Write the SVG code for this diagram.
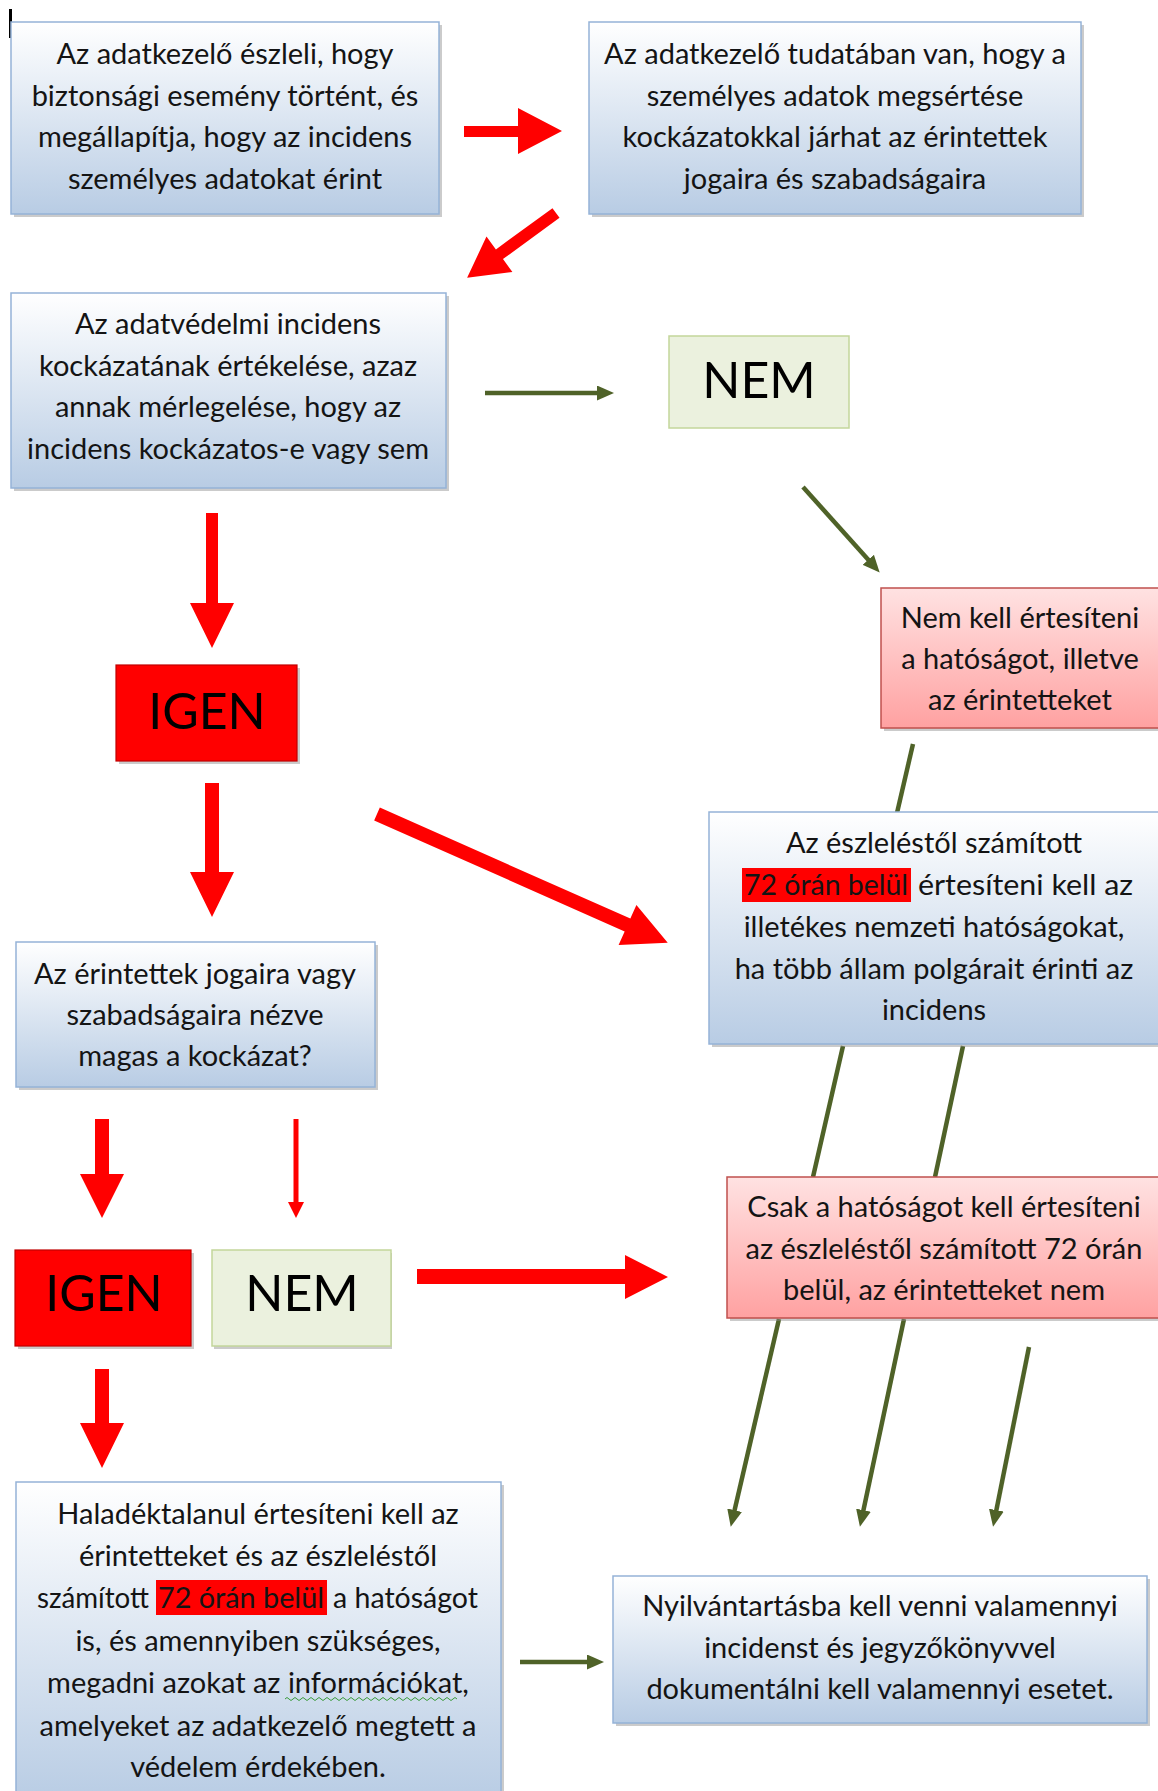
<svg xmlns="http://www.w3.org/2000/svg" width="1158" height="1791" viewBox="0 0 1158 1791">
<defs>
<linearGradient id="gBlue" x1="0" y1="0" x2="0" y2="1">
<stop offset="0" stop-color="#ffffff"/>
<stop offset="1" stop-color="#b8cce4"/>
</linearGradient>
<linearGradient id="gPink" x1="0" y1="0" x2="0" y2="1">
<stop offset="0" stop-color="#ffe2e2"/>
<stop offset="1" stop-color="#ffa1a1"/>
</linearGradient>
<marker id="gh" markerUnits="userSpaceOnUse" markerWidth="17" markerHeight="15" refX="7" refY="7.5" orient="auto" viewBox="0 0 17 15">
<path d="M0,0 L17,7.5 L0,15 z" fill="#4f6228"/>
</marker>
</defs>
<style>
.shadow{fill:#8c8c8c;opacity:.45}
.blue{fill:url(#gBlue);stroke:#95b3d7;stroke-width:1.5}
.pink{fill:url(#gPink);stroke:#c0504d;stroke-width:1.5}
.igen{fill:#ff0000;stroke:#c00000;stroke-width:1.2}
.nem{fill:#ebf1de;stroke:#c3d69b;stroke-width:1.5}
.t{font-family:Lato,"Liberation Sans",sans-serif;font-size:29px;fill:#141414;text-anchor:middle}
.ts{font-family:Lato,"Liberation Sans",sans-serif;font-size:29px;fill:#141414}
.big{font-family:Lato,"Liberation Sans",sans-serif;font-size:50px;fill:#000;text-anchor:middle}
.ra{fill:#ff0000}
.gl{stroke:#4f6228;stroke-width:4.5;fill:none}
.hl{fill:#ff0000}
</style>
<rect x="9" y="9" width="3" height="29" fill="#000"/>

<g id="connectors">
<polygon class="ra" points="464,126 518,126 518,108 562,131 518,154 518,137 464,137"/>
<polygon class="ra" transform="translate(556,213) rotate(143.9)" points="0,-6 70,-6 70,-22 110,0 70,22 70,6 0,6"/>
<polygon class="ra" points="206,513 218,513 218,603 234,603 212,648 190,603 206,603"/>
<polygon class="ra" points="205,783 219,783 219,872 234,872 212,917 190,872 205,872"/>
<polygon class="ra" transform="translate(377,814) rotate(23.9)" points="0,-7 274,-7 274,-22 318,0 274,22 274,7 0,7"/>
<polygon class="ra" points="95,1119 109,1119 109,1174 124,1174 102,1218 80,1174 95,1174"/>
<polygon class="ra" points="293.5,1119 298.5,1119 298.5,1202 304,1202 296,1218 288,1202 293.5,1202"/>
<polygon class="ra" points="417,1269 625,1269 625,1255 668,1277 625,1299 625,1284 417,1284"/>
<polygon class="ra" points="95,1369 109,1369 109,1423 124,1423 102,1468 80,1423 95,1423"/>
<line class="gl" x1="485" y1="393" x2="604" y2="393" marker-end="url(#gh)"/>
<line class="gl" x1="803" y1="487" x2="873" y2="565" marker-end="url(#gh)"/>
<line class="gl" x1="913" y1="744" x2="897" y2="813"/>
<line class="gl" x1="843" y1="1046" x2="813" y2="1177"/>
<line class="gl" x1="963" y1="1046" x2="935" y2="1177"/>
<line class="gl" x1="779" y1="1319" x2="733" y2="1517" marker-end="url(#gh)"/>
<line class="gl" x1="904" y1="1319" x2="862" y2="1517" marker-end="url(#gh)"/>
<line class="gl" x1="1029" y1="1347" x2="995" y2="1517" marker-end="url(#gh)"/>
<line class="gl" x1="520" y1="1662" x2="594" y2="1662" marker-end="url(#gh)"/>
</g>

<g id="n1">
<rect class="shadow" x="14" y="25" width="428" height="192"/>
<rect class="blue" x="11" y="22" width="428" height="192"/>
<text class="t" x="225" y="64">Az adatkezelő észleli, hogy</text>
<text class="t" x="225" y="106">biztonsági esemény történt, és</text>
<text class="t" x="225" y="147">megállapítja, hogy az incidens</text>
<text class="t" x="225" y="189">személyes adatokat érint</text>
</g>

<g id="n2">
<rect class="shadow" x="592" y="25" width="492" height="192"/>
<rect class="blue" x="589" y="22" width="492" height="192"/>
<text class="t" x="835" y="64">Az adatkezelő tudatában van, hogy a</text>
<text class="t" x="835" y="106">személyes adatok megsértése</text>
<text class="t" x="835" y="147">kockázatokkal járhat az érintettek</text>
<text class="t" x="835" y="189">jogaira és szabadságaira</text>
</g>

<g id="n3">
<rect class="shadow" x="14" y="296" width="435" height="195"/>
<rect class="blue" x="11" y="293" width="435" height="195"/>
<text class="t" x="228" y="334">Az adatvédelmi incidens</text>
<text class="t" x="228" y="376">kockázatának értékelése, azaz</text>
<text class="t" x="228" y="417">annak mérlegelése, hogy az</text>
<text class="t" x="228" y="459">incidens kockázatos-e vagy sem</text>
</g>

<g id="nem1">
<rect class="nem" x="669" y="336" width="180" height="92"/>
<text class="big" x="759" y="398">NEM</text>
</g>

<g id="n4">
<rect class="shadow" x="884" y="591" width="280" height="140"/>
<rect class="pink" x="881" y="588" width="280" height="140"/>
<text class="t" x="1020" y="628">Nem kell értesíteni</text>
<text class="t" x="1020" y="669">a hatóságot, illetve</text>
<text class="t" x="1020" y="710">az érintetteket</text>
</g>

<g id="igen1">
<rect class="shadow" x="119" y="668" width="181" height="96"/>
<rect class="igen" x="116" y="665" width="181" height="96"/>
<text class="big" x="207" y="729">IGEN</text>
</g>

<g id="n5">
<rect class="shadow" x="19" y="945" width="359" height="145"/>
<rect class="blue" x="16" y="942" width="359" height="145"/>
<text class="t" x="195" y="984">Az érintettek jogaira vagy</text>
<text class="t" x="195" y="1025">szabadságaira nézve</text>
<text class="t" x="195" y="1066">magas a kockázat?</text>
</g>

<g id="n6">
<rect class="shadow" x="712" y="815" width="460" height="232"/>
<rect class="blue" x="709" y="812" width="460" height="232"/>
<text class="t" x="934" y="853">Az észleléstől számított</text>
<rect class="hl" x="742" y="868" width="169" height="34"/>
<text class="ts" x="744" y="895" textLength="164" lengthAdjust="spacingAndGlyphs">72 órán belül</text>
<text class="ts" x="918" y="895" textLength="215" lengthAdjust="spacingAndGlyphs">értesíteni kell az</text>
<text class="t" x="934" y="937">illetékes nemzeti hatóságokat,</text>
<text class="t" x="934" y="979">ha több állam polgárait érinti az</text>
<text class="t" x="934" y="1020">incidens</text>
</g>

<g id="n7">
<rect class="shadow" x="730" y="1180" width="440" height="141"/>
<rect class="pink" x="727" y="1177" width="440" height="141"/>
<text class="t" x="944" y="1217">Csak a hatóságot kell értesíteni</text>
<text class="t" x="944" y="1259">az észleléstől számított 72 órán</text>
<text class="t" x="944" y="1300">belül, az érintetteket nem</text>
</g>

<g id="igen2">
<rect class="shadow" x="18" y="1253" width="176" height="96"/>
<rect class="igen" x="15" y="1250" width="176" height="96"/>
<text class="big" x="104" y="1311">IGEN</text>
</g>

<g id="nem2">
<rect class="shadow" x="214" y="1253" width="178" height="96" opacity=".25"/>
<rect class="nem" x="212" y="1250" width="179" height="96"/>
<text class="big" x="302" y="1311">NEM</text>
</g>

<g id="n8">
<rect class="shadow" x="19" y="1485" width="485" height="320"/>
<rect class="blue" x="16" y="1482" width="485" height="320"/>
<text class="t" x="258" y="1524">Haladéktalanul értesíteni kell az</text>
<text class="t" x="258" y="1566">érintetteket és az észleléstől</text>
<text class="ts" x="37" y="1608" textLength="112" lengthAdjust="spacingAndGlyphs">számított</text>
<rect class="hl" x="156" y="1580" width="171" height="35"/>
<text class="ts" x="158" y="1608" textLength="166" lengthAdjust="spacingAndGlyphs">72 órán belül</text>
<text class="ts" x="333" y="1608" textLength="145" lengthAdjust="spacingAndGlyphs">a hatóságot</text>
<text class="t" x="258" y="1651">is, és amennyiben szükséges,</text>
<text class="t" x="258" y="1693">megadni azokat az információkat,</text>
<path d="M285,1699 q2,-3 4,0 t4,0 t4,0 t4,0 t4,0 t4,0 t4,0 t4,0 t4,0 t4,0 t4,0 t4,0 t4,0 t4,0 t4,0 t4,0 t4,0 t4,0 t4,0 t4,0 t4,0 t4,0 t4,0 t4,0 t4,0 t4,0 t4,0 t4,0 t4,0 t4,0 t4,0 t4,0 t4,0 t4,0 t4,0 t4,0 t4,0 t4,0 t4,0 t4,0 t4,0 t4,0 t4,0" fill="none" stroke="#3a9a3a" stroke-width="1"/>
<text class="t" x="258" y="1736">amelyeket az adatkezelő megtett a</text>
<text class="t" x="258" y="1777">védelem érdekében.</text>
</g>

<g id="n9">
<rect class="shadow" x="616" y="1579" width="534" height="147"/>
<rect class="blue" x="613" y="1576" width="534" height="147"/>
<text class="t" x="880" y="1616">Nyilvántartásba kell venni valamennyi</text>
<text class="t" x="880" y="1658">incidenst és jegyzőkönyvvel</text>
<text class="t" x="880" y="1699">dokumentálni kell valamennyi esetet.</text>
</g>
</svg>
